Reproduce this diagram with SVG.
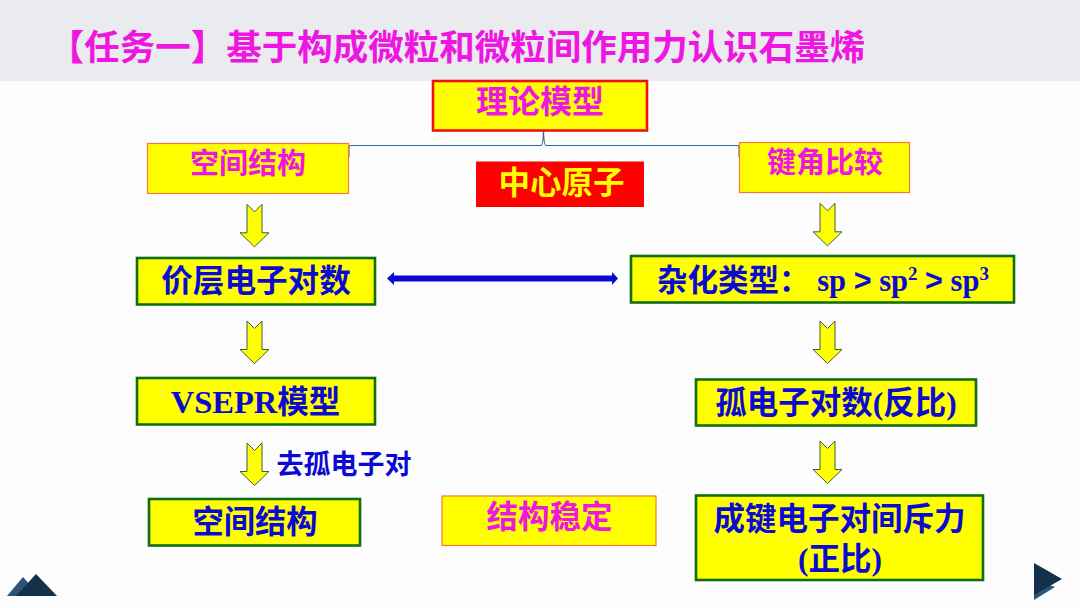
<svg xmlns="http://www.w3.org/2000/svg" width="1080" height="608" viewBox="0 0 1080 608">
<style>
text{font-family:"Liberation Sans","Noto Sans CJK SC",sans-serif;font-weight:700;text-anchor:middle}
.cjk{font-family:"Noto Sans CJK SC",sans-serif}
.serif{font-family:"Liberation Serif","Noto Sans CJK SC",serif}
.blue{fill:#0a0ad2}
.pink{fill:#ee16e0}
.g{fill:#ffff00;stroke:#0f6e0f;stroke-width:2.6}
.o{fill:#ffff00;stroke:#f47a3a;stroke-width:1.2}
.ar{fill:#ffff00;stroke:#3c5a50;stroke-width:1}
.conn{fill:none;stroke:#3f6a8e;stroke-width:1.1}
</style>
<defs>
<path id="down" class="ar" d="M-7.500 -21 L0 -13.500 L7.500 -21 L7.500 7.500 L14.500 7.500 L0 21.500 L-14.500 7.500 L-7.500 7.500 Z"/>
</defs>
<rect width="1080" height="608" fill="#fdfdfd"/>
<rect id="title-band" width="1080" height="81" fill="#e9ebee"/>
<text id="title" class="cjk pink" x="457" y="59.500" font-size="35.500">【任务一】基于构成微粒和微粒间作用力认识石墨烯</text>
<g id="connectors">
<path class="conn" d="M349 157 L349 148 Q349 145.500 351 145.500 L541 145.500 Q543 145.500 543.500 131 Q544 145.500 546 145.500 L737 145.500 Q739 145.500 739 148 L739 157"/>
<g id="a1"><use href="#down" x="254.500" y="225.300"/></g>
<g id="a2"><use href="#down" x="254.500" y="342"/></g>
<g id="a3"><use href="#down" x="254.500" y="464"/></g>
<g id="a4"><use href="#down" x="827.500" y="224.300"/></g>
<g id="a5"><use href="#down" x="827.500" y="342"/></g>
<g id="a6"><use href="#down" x="827.500" y="462"/></g>
<path id="double" fill="#0a0ad2" d="M387 278.500 L394 272 L394 275.500 L612 275.500 L612 272 L618 278.500 L612 285 L612 281.500 L394 281.500 L394 285 Z"/>
</g>
<g id="n-theory"><rect x="433" y="81" width="214" height="49.500" fill="#ffff00" stroke="#ee1111" stroke-width="2.600"/><text class="cjk pink" x="540" y="113" font-size="32">理论模型</text></g>
<g id="n-space1"><rect class="o" x="147.500" y="143.500" width="201" height="50"/><text class="cjk pink" x="248" y="174" font-size="29">空间结构</text></g>
<g id="n-center"><rect x="476" y="161.500" width="168" height="45.500" fill="#ff0000"/><text class="cjk" fill="#ffff00" x="561.500" y="193.500" font-size="31.500">中心原子</text></g>
<g id="n-angle"><rect class="o" x="739.500" y="142.500" width="170" height="50"/><text class="cjk pink" x="825" y="172.500" font-size="29">键角比较</text></g>
<g id="n-vsepr-count"><rect class="g" x="137" y="258" width="238" height="46.500"/><text class="cjk blue" x="256" y="291.500" font-size="31.600">价层电子对数</text></g>
<g id="n-hybrid"><rect class="g" x="631" y="256" width="383" height="46.500"/><text class="blue" x="823" y="291" font-size="30.500"><tspan class="cjk">杂化类型：</tspan><tspan class="serif"> sp </tspan><tspan>&gt;</tspan><tspan class="serif"> sp</tspan><tspan class="serif" font-size="19" dy="-11">2</tspan><tspan class="serif" dy="11"> </tspan><tspan>&gt;</tspan><tspan class="serif"> sp</tspan><tspan class="serif" font-size="19" dy="-11">3</tspan></text></g>
<g id="n-vsepr"><rect class="g" x="137" y="378" width="238" height="46.500"/><text class="serif blue" x="255.500" y="412.500" font-size="32.500">VSEPR<tspan class="cjk" font-size="31.500">模型</tspan></text></g>
<g id="n-lone"><rect class="g" x="696" y="379.500" width="280" height="46"/><text class="blue" x="836" y="414" font-size="31.500"><tspan class="cjk">孤电子对数</tspan><tspan class="serif">(</tspan><tspan class="cjk">反比</tspan><tspan class="serif">)</tspan></text></g>
<text id="label-lone" class="cjk blue" x="344" y="474" font-size="27">去孤电子对</text>
<g id="n-space2"><rect class="g" x="149" y="499" width="211" height="46.500"/><text class="cjk blue" x="255" y="532.500" font-size="31.300">空间结构</text></g>
<g id="n-stable"><rect class="o" x="442" y="496" width="214" height="49.500"/><text class="cjk pink" x="549.500" y="527.500" font-size="31.500">结构稳定</text></g>
<g id="n-repel"><rect class="g" x="696" y="495.500" width="287" height="84.500"/><text class="blue" font-size="31.500"><tspan class="cjk" x="839.500" y="529.500">成键电子对间斥力</tspan><tspan class="serif" x="840" y="569.500">(</tspan><tspan class="cjk">正比</tspan><tspan class="serif">)</tspan></text></g>
<g id="nav-left"><path fill="#2b5478" d="M7 596 L23 577 L40 596 Z"/><path fill="#14304a" d="M16 596 L36 574 L57 596 Z"/></g>
<g id="nav-right"><path fill="#2b5478" d="M1034 580 L1055 587 L1034 600 Z"/><path fill="#14304a" d="M1034 563 L1062 579 L1034 595 Z"/></g>
</svg>
